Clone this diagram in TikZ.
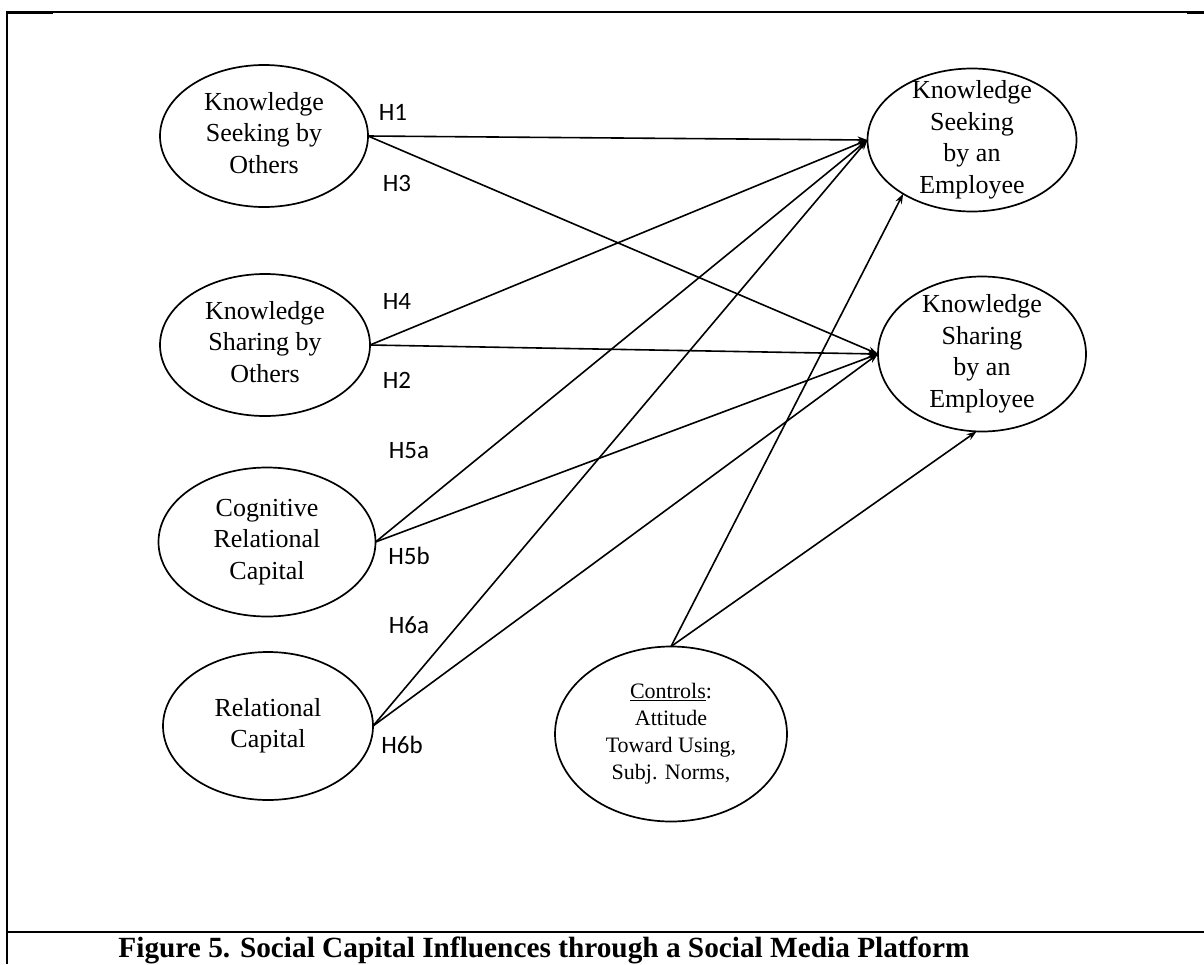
\documentclass[tikz,border=0pt]{standalone}
\usepackage{fontspec}
\setmainfont{Liberation Serif}
\newfontfamily\hypfont{Carlito}
\usetikzlibrary{shapes.geometric,arrows.meta}

% multi-line text that does not widen its ellipse
\newcommand{\inside}[1]{\raisebox{-0.45em}{\makebox[0pt]{\smash{\begin{tabular}{@{}c@{}}#1\end{tabular}}}}}

\begin{document}
\begin{tikzpicture}[x=1pt,y=-1pt,
  construct/.style={draw, ellipse, line width=1.7pt, inner sep=0pt, outer sep=0pt,
    font=\fontsize{26}{31.5}\selectfont},
  link/.style={line width=1.6pt, -{Stealth[length=10pt,width=7pt]}},
  hyp/.style={font=\hypfont\fontsize{25}{30}\selectfont, inner sep=0pt}
]
\useasboundingbox (0,0) rectangle (1204,964);
\clip (0,0) rectangle (1204,964);

% frame of the figure box
\draw[line width=1.6pt] (7,12) -- (1204,12);
\draw[line width=3pt] (7,12) -- (53,12);
\draw[line width=3pt] (1187,12) -- (1204,12);
\draw[line width=2.2pt] (7,11) -- (7,964);
\draw[line width=2.6pt] (7,932) -- (1204,932);

% constructs
\node[construct, minimum width=208pt, minimum height=142pt] (kso) at (264,136)
  {\inside{Knowledge\\Seeking by\\Others}};
\node[construct, minimum width=210pt, minimum height=142pt] (ksho) at (265,345)
  {\inside{Knowledge\\Sharing by\\Others}};
\node[construct, minimum width=217pt, minimum height=149pt] (crc) at (267,542)
  {\inside{Cognitive\\Relational\\Capital}};
\node[construct, minimum width=210pt, minimum height=148pt] (rc) at (268,726)
  {\inside{Relational\\Capital}};
\node[construct, minimum width=209pt, minimum height=143pt] (kse) at (972,140)
  {\inside{Knowledge\\Seeking\\by an\\Employee}};
\node[construct, minimum width=208pt, minimum height=155pt] (kshe) at (982,354)
  {\inside{Knowledge\\Sharing\\by an\\Employee}};
\node[construct, minimum width=232pt, minimum height=175pt,
      font=\fontsize{22}{27}\selectfont] (ctrl) at (671,734)
  {\raisebox{10pt}{\inside{\underline{Controls}:\\Attitude\\Toward Using,\\Subj. Norms,}}};

% hypothesised paths
\draw[link] (kso.east) -- (kse.west);
\draw[link] (kso.east) -- (kshe.west);
\draw[link] (ksho.east) -- (kse.west);
\draw[link] (ksho.east) -- (kshe.west);
\draw[link] (crc.east) -- (kse.west);
\draw[link] (crc.east) -- (kshe.west);
\draw[link] (rc.east) -- (kse.west);
\draw[link] (rc.east) -- (kshe.west);
\draw[link] (ctrl.north) -- (kse.218);
\draw[link] (ctrl.north) -- (kshe.266);

% hypothesis labels
\node[hyp] (h1) at (393,112) {H1};
\node[hyp] (h3) at (397,183) {H3};
\node[hyp] (h4) at (397,301) {H4};
\node[hyp] (h2) at (397,380) {H2};
\node[hyp] (h5a) at (409,451) {H5a};
\node[hyp] (h5b) at (409,556) {H5b};
\node[hyp] (h6a) at (409,625) {H6a};
\node[hyp] (h6b) at (402,745) {H6b};

% caption
\node[font=\bfseries\fontsize{29.3}{34}\selectfont, anchor=base, inner sep=0pt] (cap) at (544,957)
  {Figure 5. Social Capital Influences through a Social Media Platform};
\end{tikzpicture}
\end{document}
